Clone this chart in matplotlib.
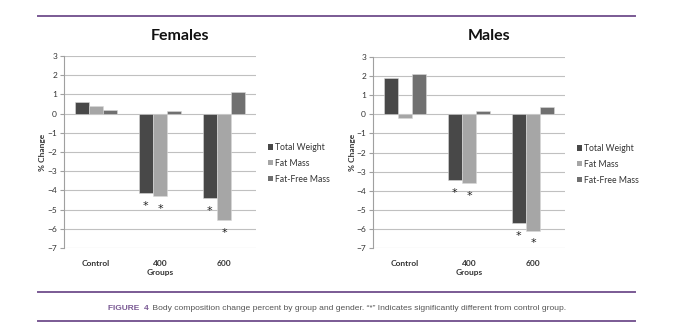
import matplotlib
matplotlib.use("Agg")
import matplotlib.pyplot as plt
from matplotlib.patches import Patch
from matplotlib.lines import Line2D
import numpy as np

groups = ["Control", "400", "600"]
series = ["Total Weight", "Fat Mass", "Fat-Free Mass"]
colors = ["#484848", "#a6a6a6", "#707070"]

females = {
    "Total Weight": [0.6, -4.15, -4.4],
    "Fat Mass": [0.42, -4.3, -5.55],
    "Fat-Free Mass": [0.17, 0.15, 1.15],
}
males = {
    "Total Weight": [1.9, -3.45, -5.7],
    "Fat Mass": [-0.2, -3.6, -6.1],
    "Fat-Free Mass": [2.1, 0.15, 0.4],
}
# significant vs control: (series, group index)
sig_females = [("Total Weight", 1), ("Fat Mass", 1), ("Total Weight", 2), ("Fat Mass", 2)]
sig_males = [("Total Weight", 1), ("Fat Mass", 1), ("Total Weight", 2), ("Fat Mass", 2)]

FONT = ["Lato", "DejaVu Sans"]
plt.rcParams["font.family"] = FONT

W, H = 680, 328
fig = plt.figure(figsize=(W / 100, H / 100), dpi=100)
fig.patch.set_facecolor("white")


def px(x0, y0, x1, y1):
    return [x0 / W, 1 - y1 / H, (x1 - x0) / W, (y1 - y0) / H]


purple = "#7a5a94"


def panel(rect, data, sig, title, title_x, ylab_x, legend_xy):
    ax = fig.add_axes(px(*rect))
    x = np.arange(len(groups))
    bw = 0.22
    for i, s in enumerate(series):
        vals = data[s]
        ax.bar(x + (i - 1) * bw, vals, width=bw, color=colors[i],
               edgecolor="#d9d9d9", linewidth=0.4, zorder=3)
    for s, g in sig:
        i = series.index(s)
        v = data[s][g]
        ax.annotate("*", xy=(g + (i - 1) * bw, v), xytext=(0, -9),
                    textcoords="offset points", ha="center", va="center",
                    fontsize=8, color="#222222", family="DejaVu Sans")
    ax.set_ylim(-7, 3)
    ax.set_xlim(-0.5, 2.5)
    ax.set_yticks(range(-7, 4))
    ax.grid(axis="y", color="#c0c0c0", linewidth=0.8, zorder=0)
    ax.set_axisbelow(True)
    for sp in ["top", "right", "bottom"]:
        ax.spines[sp].set_visible(False)
    ax.spines["left"].set_color("#a0a0a0")
    ax.spines["left"].set_linewidth(0.8)
    ax.tick_params(axis="y", length=3, width=0.8, color="#a0a0a0",
                   labelsize=6, labelcolor="#333333", pad=2)
    ax.set_xticks(x)
    ax.set_xticklabels(groups, fontsize=6, fontweight="bold", color="#333333")
    ax.tick_params(axis="x", length=0, pad=9)
    ax.set_xlabel("Groups", fontsize=6, fontweight="bold", color="#333333", labelpad=1)
    ax.set_facecolor("none")
    fig.text(title_x / W, 1 - 36 / H, title, ha="center", va="center",
             fontsize=11.5, fontweight="bold", color="#111111")
    fig.text(ylab_x / W, 1 - 152 / H, "% Change", rotation=90, ha="center",
             va="center", fontsize=6, fontweight="bold", color="#333333")
    handles = [Patch(facecolor=c, edgecolor="none") for c in colors]
    fig.legend(handles, series, loc="upper left",
               bbox_to_anchor=(legend_xy[0] / W, 1 - legend_xy[1] / H),
               frameon=False, fontsize=6.2, handlelength=0.55, handleheight=0.55,
               handletextpad=0.3, labelspacing=0.8, borderpad=0, borderaxespad=0,
               labelcolor="#333333")
    return ax


panel((64, 56, 256, 248), females, sig_females, "Females", 180, 42, (268, 143))
panel((373, 57, 565, 248), males, sig_males, "Males", 489, 352, (577, 144))

# horizontal rules
for y in (16, 292, 321):
    fig.add_artist(Line2D([38 / W, 635 / W], [1 - y / H, 1 - y / H],
                          color=purple, linewidth=1.4))

# caption
cap_font = ["Liberation Sans", "DejaVu Sans"]
t1 = fig.text(108 / W, 1 - 309 / H, "FIGURE  4", ha="left", va="center",
              fontsize=6.0, fontweight="bold", color=purple, family=cap_font)
plt.annotate(" Body composition change percent by group and gender. \u201c*\u201d Indicates significantly different from control group.",
             xy=(1, 0.5), xycoords=t1, xytext=(1, 0), textcoords="offset points",
             ha="left", va="center", fontsize=6.1, color="#555555", family=cap_font,
             annotation_clip=False)

fig.savefig("out.png", dpi=100, facecolor="white")
